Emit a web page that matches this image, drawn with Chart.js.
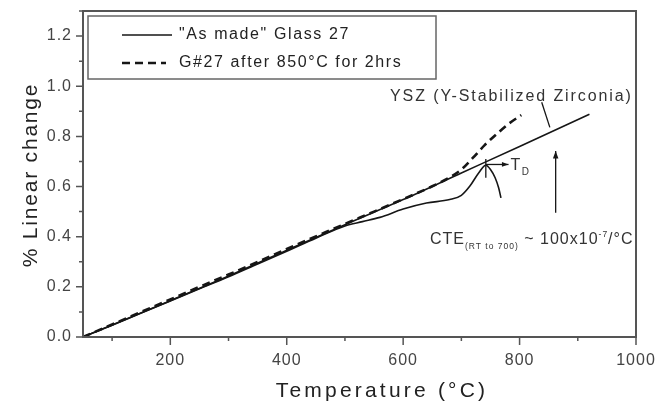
<!DOCTYPE html>
<html>
<head>
<meta charset="utf-8">
<script src="https://cdn.jsdelivr.net/npm/chart.js@4.4.0/dist/chart.umd.min.js"></script>
<style>
  html, body { margin: 0; padding: 0; background: #fff; }
</style>
</head>
<body>
<canvas id="cte" width="655" height="404"></canvas>
<script>
// YSZ reference line (no legend entry)
const yszTemp = [50, 100, 200, 300, 400, 500, 600, 700, 800, 920];
const yszPct  = [0, 0.048, 0.145, 0.243, 0.346, 0.448, 0.548, 0.654, 0.76, 0.888];

// "As made" Glass 27
const asMadeTemp = [50, 100, 150, 200, 250, 300, 350, 400, 450, 500, 530, 560, 600, 640, 680, 700, 715, 730, 742, 750, 758, 764, 768];
const asMadePct  = [0, 0.047, 0.096, 0.144, 0.192, 0.24, 0.291, 0.342, 0.394, 0.443, 0.46, 0.477, 0.51, 0.534, 0.548, 0.565, 0.603, 0.655, 0.685, 0.668, 0.635, 0.595, 0.555];

// G#27 after 850°C for 2hrs
const annealTemp = [50, 100, 150, 200, 250, 300, 350, 400, 450, 500, 550, 600, 650, 680, 700, 720, 740, 760, 780, 803];
const annealPct  = [0, 0.05, 0.1, 0.15, 0.2, 0.249, 0.299, 0.351, 0.401, 0.451, 0.5, 0.55, 0.601, 0.637, 0.668, 0.715, 0.765, 0.808, 0.848, 0.885];

const xTicks = [100, 200, 300, 400, 500, 600, 700, 800, 900, 1000];
const yTicks = [0, 0.1, 0.2, 0.3, 0.4, 0.5, 0.6, 0.7, 0.8, 0.9, 1.0, 1.1, 1.2, 1.3];

const INK = "#161616";
const AXIS = "#555";
const TEXT = "#333";
const FONT = "'Liberation Sans', Arial, sans-serif";

function pts(xs, ys) {
    return xs.map((x, i) => ({ x, y: ys[i] }));
}

function isMajorX(v) { return v % 200 === 0; }
function isMajorY(v) { return Math.round(v * 10) % 2 === 0 && v < 1.25; }

// draw a run of text pieces: [text, size, dy]
function richText(ctx, parts, x, y) {
    parts.forEach(([t, size, dy]) => {
        ctx.font = `${size}px ${FONT}`;
        ctx.fillText(t, x, y + dy);
        x += ctx.measureText(t).width;
    });
    return x;
}

function arrow(ctx, x1, y1, x2, y2, head) {
    ctx.beginPath();
    ctx.moveTo(x1, y1);
    ctx.lineTo(x2, y2);
    ctx.stroke();
    const a = Math.atan2(y2 - y1, x2 - x1);
    ctx.beginPath();
    ctx.moveTo(x2, y2);
    ctx.lineTo(x2 - head * Math.cos(a - 0.35), y2 - head * Math.sin(a - 0.35));
    ctx.lineTo(x2 - head * Math.cos(a + 0.35), y2 - head * Math.sin(a + 0.35));
    ctx.closePath();
    ctx.fill();
}

const decor = {
    id: "decor",
    beforeDraw(chart) {
        chart.ctx.letterSpacing = "1px";
    },
    afterDraw(chart) {
        const { ctx, chartArea: ca, scales } = chart;
        const X = v => scales.x.getPixelForValue(v);
        const Y = v => scales.y.getPixelForValue(v);
        ctx.save();

        // frame
        ctx.strokeStyle = AXIS;
        ctx.lineWidth = 2;
        ctx.strokeRect(ca.left, ca.top, ca.right - ca.left, ca.bottom - ca.top);

        // ticks
        ctx.lineWidth = 1.5;
        ctx.beginPath();
        xTicks.forEach(v => {
            const len = isMajorX(v) ? 8 : 4;
            ctx.moveTo(X(v), ca.bottom);
            ctx.lineTo(X(v), ca.bottom + len);
        });
        yTicks.forEach(v => {
            const len = isMajorY(v) ? 7 : 4;
            ctx.moveTo(ca.left, Y(v));
            ctx.lineTo(ca.left - len, Y(v));
        });
        ctx.stroke();

        // legend
        const lx = ca.left + 5, ly = ca.top + 5;
        ctx.strokeStyle = "#666";
        ctx.lineWidth = 1.5;
        ctx.strokeRect(lx, ly, 348, 63);
        ctx.fillStyle = "#222";
        ctx.textBaseline = "middle";
        ctx.letterSpacing = "1.6px";
        ctx.font = `16px ${FONT}`;
        [0, 1].forEach(i => {
            const ds = chart.data.datasets[i];
            const yy = ly + 19 + i * 28;
            ctx.strokeStyle = INK;
            ctx.lineWidth = ds.borderWidth;
            ctx.setLineDash(ds.borderDash || []);
            ctx.beginPath();
            ctx.moveTo(lx + 34, yy);
            ctx.lineTo(lx + (i ? 78 : 84), yy);
            ctx.stroke();
            ctx.setLineDash([]);
            ctx.fillText(ds.label, lx + 91, yy);
        });

        // annotations
        ctx.strokeStyle = INK;
        ctx.fillStyle = INK;
        ctx.lineWidth = 1.3;
        // YSZ pointer
        ctx.beginPath();
        ctx.moveTo(X(838), Y(0.936));
        ctx.lineTo(X(852), Y(0.836));
        ctx.stroke();
        // T_D marker
        ctx.beginPath();
        ctx.moveTo(X(742), Y(0.635));
        ctx.lineTo(X(742), Y(0.71));
        ctx.stroke();
        arrow(ctx, X(742), Y(0.688), X(781), Y(0.688), 7);
        // vertical arrow
        arrow(ctx, X(862), Y(0.495), X(862), Y(0.742), 8);

        ctx.fillStyle = TEXT;
        ctx.textBaseline = "alphabetic";
        ctx.letterSpacing = "1.5px";
        richText(ctx, [["T", 16, 0], ["D", 10, 5]], X(781) + 2, Y(0.688) + 6);
        ctx.letterSpacing = "1.9px";
        richText(ctx, [["YSZ (Y-Stabilized Zirconia)", 16, 0]], 390, 101);
        ctx.letterSpacing = "1px";
        richText(ctx, [["CTE", 16, 0], ["(RT to 700)", 8.5, 5], [" ~ 100x10", 16, 0], ["-7", 8.5, -7], ["/°C", 16, 0]], 430, 244);

        // axis titles
        ctx.fillStyle = "#222";
        ctx.letterSpacing = "3.2px";
        ctx.font = `21px ${FONT}`;
        ctx.textAlign = "center";
        ctx.fillText("Temperature (°C)", 382, 397);
        ctx.translate(37, 175);
        ctx.rotate(-Math.PI / 2);
        ctx.letterSpacing = "1.8px";
        ctx.fillText("% Linear change", 0, 0);
        ctx.restore();
    }
};

new Chart(document.getElementById("cte"), {
    type: "scatter",
    data: {
        datasets: [
            {
                label: "\"As made\" Glass 27",
                data: pts(asMadeTemp, asMadePct),
                showLine: true, borderColor: INK, borderWidth: 1.6,
                pointRadius: 0, cubicInterpolationMode: "monotone"
            },
            {
                label: "G#27 after 850°C for 2hrs",
                data: pts(annealTemp, annealPct),
                showLine: true, borderColor: INK, borderWidth: 2.6, borderDash: [8, 5],
                pointRadius: 0, cubicInterpolationMode: "monotone"
            },
            {
                label: "YSZ",
                data: pts(yszTemp, yszPct),
                showLine: true, borderColor: INK, borderWidth: 1.6,
                pointRadius: 0, cubicInterpolationMode: "monotone"
            }
        ]
    },
    options: {
        responsive: false,
        animation: false,
        layout: { padding: { left: 0, right: 19, top: 11, bottom: 0 } },
        plugins: { legend: { display: false }, tooltip: { enabled: false } },
        scales: {
            x: {
                type: "linear", min: 50, max: 1000,
                afterBuildTicks: s => { s.ticks = xTicks.map(value => ({ value })); },
                afterFit: s => { s.height = 67; s.paddingLeft = 0; s.paddingRight = 0; },
                grid: { drawOnChartArea: false, drawTicks: true, tickLength: 8, tickColor: "transparent", color: "transparent" },
                border: { display: false },
                ticks: {
                    padding: 6, color: "#444", maxRotation: 0, autoSkip: false,
                    font: { family: FONT, size: 16 },
                    callback: v => isMajorX(v) ? String(v) : ""
                }
            },
            y: {
                type: "linear", min: 0, max: 1.3,
                afterBuildTicks: s => { s.ticks = yTicks.map(value => ({ value })); },
                afterFit: s => { s.width = 83; s.paddingTop = 0; s.paddingBottom = 0; },
                grid: { drawOnChartArea: false, drawTicks: true, tickLength: 7, tickColor: "transparent", color: "transparent" },
                border: { display: false },
                ticks: {
                    padding: 4, color: "#444", autoSkip: false,
                    font: { family: FONT, size: 16 },
                    callback: v => isMajorY(v) ? v.toFixed(1) : ""
                }
            }
        }
    },
    plugins: [decor]
});
</script>
</body>
</html>
